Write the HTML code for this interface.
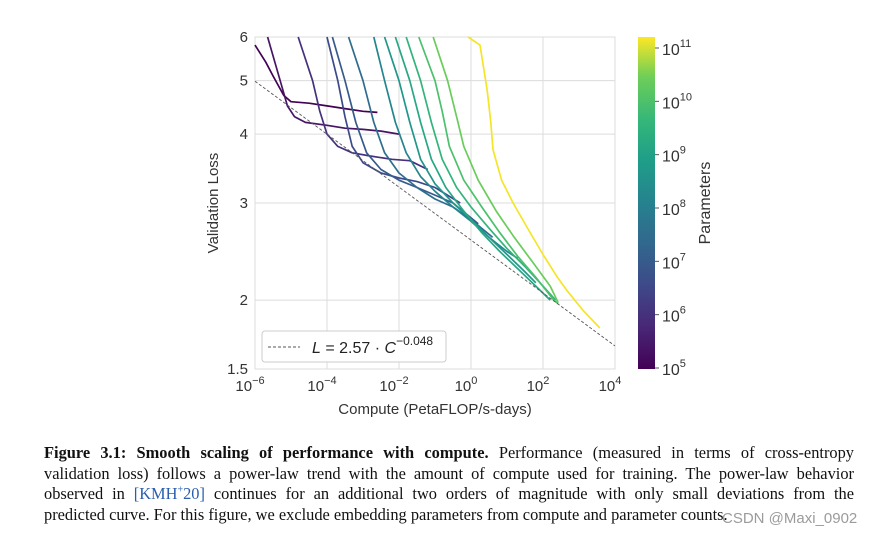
<!DOCTYPE html>
<html><head><meta charset="utf-8">
<style>
body{margin:0;background:#fff;width:880px;height:538px;overflow:hidden;position:relative;font-family:"Liberation Sans",sans-serif}
#cap{position:absolute;left:44px;top:443px;width:810px;font-family:"Liberation Serif",serif;font-size:16.4px;line-height:20.5px;color:#111}
#cap div{text-align:justify;text-align-last:justify;white-space:nowrap}
#cap div.last{text-align-last:left}
#cap a{color:#2a5db0;text-decoration:none}
#wm{position:absolute;left:722px;top:510px;font-size:15px;color:#8a8a8a;opacity:.85}
</style></head><body>
<svg id="chart" width="880" height="440" style="position:absolute;left:0;top:0" font-family="Liberation Sans, sans-serif">
<defs><linearGradient id="vg" x1="0" y1="1" x2="0" y2="0">
<stop offset="0" stop-color="#440154"/><stop offset="0.13" stop-color="#482878"/><stop offset="0.25" stop-color="#3e4989"/><stop offset="0.38" stop-color="#31688e"/><stop offset="0.5" stop-color="#26828e"/><stop offset="0.63" stop-color="#1f9e89"/><stop offset="0.75" stop-color="#35b779"/><stop offset="0.88" stop-color="#6ece58"/><stop offset="1" stop-color="#fde725"/></linearGradient></defs>
<g id="grid"></g><g id="series"></g><g id="axes"></g>
</svg>
<div id="cap">
<div style="white-space:normal;height:20.5px;overflow:hidden"><b>Figure 3.1: Smooth scaling of performance with compute.</b> Performance (measured in terms of cross-entropy</div>
<div style="white-space:normal;height:20.5px;overflow:hidden">validation loss) follows a power-law trend with the amount of compute used for training. The power-law behavior</div>
<div style="white-space:normal;height:20.5px;overflow:hidden">observed in <a>[KMH<sup style="font-size:10px;line-height:0">+</sup>20]</a> continues for an additional two orders of magnitude with only small deviations from the</div>
<div class="last">predicted curve. For this figure, we exclude embedding parameters from compute and parameter counts.</div>
</div>
<div id="wm">CSDN @Maxi_0902</div>
<script>
const xTicks=[-6,-4,-2,0,2,4];
const yTicks=[6,5,4,3,2,1.5];
const cbTicks=[5,6,7,8,9,10,11];
const fitA=2.57, fitB=-0.048;
const curveParams=[5.0,5.4,6.0,6.6,7.0,7.5,8.2,8.7,9.2,9.6,10.0,10.4,11.2];
const curve0=[[-6.0,5.8],[-5.7,5.4],[-5.5,5.1],[-5.2,4.7],[-5.0,4.58],[-4.5,4.55],[-4,4.5],[-3.5,4.45],[-3,4.4],[-2.6,4.38]];
const curve1=[[-5.65,6],[-5.3,5.0],[-5.1,4.5],[-4.9,4.3],[-4.6,4.2],[-4,4.15],[-3.5,4.1],[-3,4.08],[-2.5,4.05],[-2.0,4.0]];
const curve2=[[-4.8,6],[-4.4,5.0],[-4.2,4.4],[-4,4.0],[-3.7,3.8],[-3.3,3.7],[-2.8,3.65],[-2.2,3.6],[-1.7,3.58],[-1.2,3.45]];
const curve3=[[-4.0,6],[-3.7,5.0],[-3.5,4.3],[-3.3,3.8],[-3,3.55],[-2.5,3.4],[-2,3.33],[-1.5,3.28],[-1,3.2],[-0.3,3.0]];
const curve4=[[-3.85,6],[-3.5,5.0],[-3.2,4.2],[-2.9,3.7],[-2.5,3.45],[-2,3.3],[-1.5,3.2],[-1,3.1],[-0.5,3.0],[0.2,2.75]];
const curve5=[[-3.4,6],[-3.0,5],[-2.7,4.2],[-2.4,3.7],[-2,3.4],[-1.5,3.2],[-1,3.05],[-0.5,2.95],[0,2.8],[0.6,2.6]];
const curve6=[[-2.7,6],[-2.4,5],[-2.1,4.2],[-1.8,3.7],[-1.4,3.35],[-1,3.15],[-0.5,2.95],[0,2.78],[0.5,2.6],[1,2.45],[1.3,2.38]];
const curve7=[[-2.4,6],[-2.0,5],[-1.7,4.2],[-1.4,3.6],[-1,3.25],[-0.5,3.0],[0,2.8],[0.5,2.6],[1,2.42],[1.5,2.25],[1.8,2.15]];
const curve8=[[-2.1,6],[-1.7,5],[-1.4,4.2],[-1.1,3.6],[-0.7,3.2],[-0.2,2.9],[0.3,2.65],[0.8,2.45],[1.3,2.28],[1.8,2.12],[2.2,2.0]];
const curve9=[[-1.8,6],[-1.4,5],[-1.1,4.2],[-0.8,3.6],[-0.4,3.2],[0,2.95],[0.5,2.7],[1,2.48],[1.5,2.3],[2,2.12],[2.35,2.0]];
const curve10=[[-1.45,6],[-1.0,5],[-0.8,4.4],[-0.6,3.8],[-0.2,3.3],[0.3,2.95],[0.8,2.65],[1.3,2.4],[1.8,2.2],[2.3,2.0],[2.42,1.97]];
const curve11=[[-1.05,6],[-0.65,5],[-0.4,4.3],[-0.2,3.8],[0.2,3.3],[0.7,2.9],[1.2,2.6],[1.7,2.35],[2.2,2.12],[2.42,1.98]];
const curve12=[[-0.08,6],[0.25,5.8],[0.45,4.8],[0.55,4.2],[0.61,3.75],[0.85,3.3],[1.17,3.0],[1.6,2.68],[2.0,2.42],[2.4,2.2],[2.67,2.08],[3.1,1.92],[3.58,1.78]];
const curves=[curve0,curve1,curve2,curve3,curve4,curve5,curve6,curve7,curve8,curve9,curve10,curve11,curve12];

const X0=255,X1=615,Y0=37,Y1=369;
const lgMax=Math.log10(6),lgMin=Math.log10(1.5);
function xs(l){return X0+(l+6)/10*(X1-X0);}
function ys(v){return Y0+(lgMax-Math.log10(v))/(lgMax-lgMin)*(Y1-Y0);}
const CB0=368,CB1=48;
function cbs(p){return CB0+(p-5)/6*(CB1-CB0);}
const vir=[[68,1,84],[72,40,120],[62,73,137],[49,104,142],[38,130,142],[31,158,137],[53,183,121],[110,206,88],[253,231,37]];
function viridis(t){t=Math.max(0,Math.min(1,t));const f=t*(vir.length-1),i=Math.min(vir.length-2,Math.floor(f)),r=f-i;const c=vir[i].map((a,k)=>Math.round(a+(vir[i+1][k]-a)*r));return `rgb(${c})`;}
const NS="http://www.w3.org/2000/svg";
function mk(tag,attrs,parent,txt){const e=document.createElementNS(NS,tag);for(const k in attrs)e.setAttribute(k,attrs[k]);if(txt!==undefined)e.textContent=txt;parent.appendChild(e);return e;}
const grid=document.getElementById('grid'),ser=document.getElementById('series'),ax=document.getElementById('axes');
xTicks.forEach(t=>{const l=mk('line',{x1:xs(t),x2:xs(t),y1:Y0,y2:Y1,stroke:'#dcdcdc','stroke-width':1},grid);


const tx=mk('text',{x:xs(t)-5,y:391,'font-size':15,fill:'#333','text-anchor':'middle'},ax);


tx.textContent='10';mk('tspan',{dy:-7,'font-size':11},tx,String(t).replace('-','−'));});
yTicks.forEach(t=>{const l=mk('line',{x1:X0,x2:X1,y1:ys(t),y2:ys(t),stroke:'#dcdcdc','stroke-width':1},grid);


const tx=mk('text',{x:248,y:ys(t)+5,'font-size':15,fill:'#333','text-anchor':'end'},ax,String(t));

});
const fr=mk('rect',{x:X0,y:Y0,width:X1-X0,height:Y1-Y0,fill:'none',stroke:'#dcdcdc'},grid);


curves.forEach((c,i)=>{const d=c.map((p,j)=>(j?'L':'M')+xs(p[0]).toFixed(1)+','+ys(p[1]).toFixed(1)).join('');
const p=mk('path',{d:d,fill:'none',stroke:viridis((curveParams[i]-5)/6.25),'stroke-width':1.7,'stroke-linejoin':'round'},ser);

});
const fl=mk('line',{x1:xs(-6),y1:ys(fitA*Math.pow(10,-6*fitB)),x2:xs(4),y2:ys(fitA*Math.pow(10,4*fitB)),stroke:'#555','stroke-width':0.9,'stroke-dasharray':'3,2'},ser);


const lg=mk('g',{},ax);


mk('rect',{x:262,y:331,width:184,height:31,rx:3,fill:'#fff',stroke:'#ccc'},lg);
mk('line',{x1:268,x2:300,y1:347,y2:347,stroke:'#555','stroke-dasharray':'3,2'},lg);
const lt=mk('text',{x:312,y:353,'font-size':16,fill:'#222'},lg);
mk('tspan',{'font-style':'italic'},lt,'L');mk('tspan',{},lt,' = 2.57 · ');mk('tspan',{'font-style':'italic'},lt,'C');mk('tspan',{dy:-8,'font-size':12},lt,'−0.048');
const cb=mk('rect',{x:638,y:37,width:17,height:332,fill:'url(#vg)'},ax);


cbTicks.forEach(t=>{mk('line',{x1:655,x2:659,y1:cbs(t),y2:cbs(t),stroke:'#555'},ax);
const tx=mk('text',{x:662,y:cbs(t)+7,'font-size':16,fill:'#333'},ax,'10');


mk('tspan',{dy:-8,'font-size':11},tx,String(t));});
const xt=mk('text',{x:435,y:414,'font-size':15,fill:'#333','text-anchor':'middle'},ax,'Compute (PetaFLOP/s-days)');


const yt=mk('text',{x:218,y:203,'font-size':15,fill:'#333','text-anchor':'middle',transform:'rotate(-90 218 203)'},ax,'Validation Loss');


const ct=mk('text',{x:710,y:203,'font-size':16,fill:'#333','text-anchor':'middle',transform:'rotate(-90 710 203)'},ax,'Parameters');


</script>
</body></html>
